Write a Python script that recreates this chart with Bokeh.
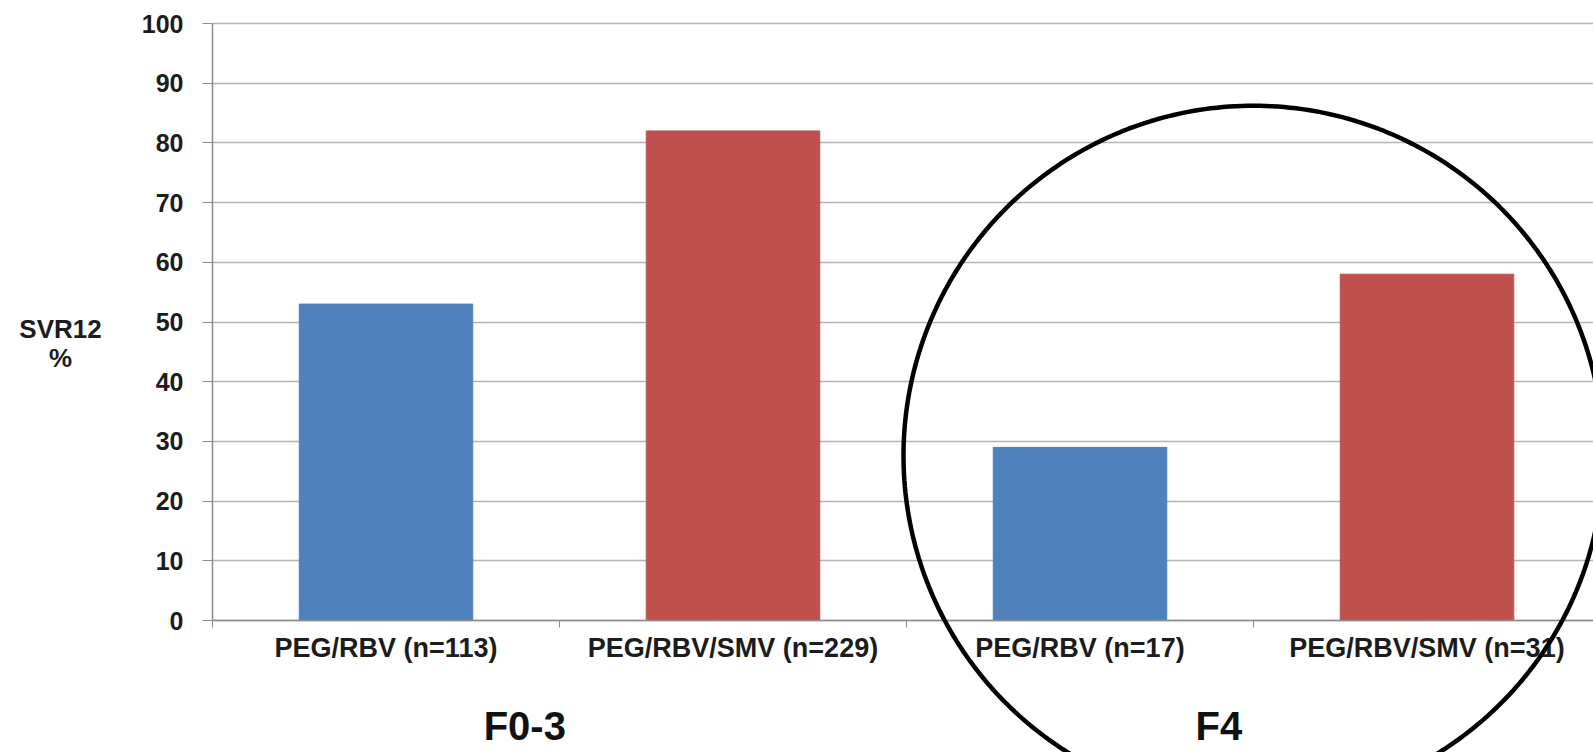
import numpy as np
from bokeh.plotting import figure
from bokeh.models import (Range1d, FixedTicker, Label, PolyAnnotation, ColumnDataSource,
                          LinearAxis, Grid)
from bokeh.embed import file_html
from bokeh.resources import INLINE

# SVR12 rates by treatment arm, split by fibrosis stage
categories = ["PEG/RBV (n=113)", "PEG/RBV/SMV (n=229)", "PEG/RBV (n=17)", "PEG/RBV/SMV (n=31)"]
svr12 = [53, 82, 29, 58]
bar_colors = ["#4F81BD", "#C0504D", "#4F81BD", "#C0504D"]
groups = ["F0-3", "F4"]
group_members = [[0, 1], [2, 3]]
y_ticks = [0, 10, 20, 30, 40, 50, 60, 70, 80, 90, 100]

FONT = "Liberation Sans"
TEXT = "#1c1c1c"
GRID = "#b4b4b4"
AXIS = "#8c8c8c"

W, H = 1593, 752
# The drawing area fills the whole canvas; axes sit at fixed data positions inside it,
# so annotations (stage labels, the ring) can extend below the value axis.
axis_left_px = 212.0     # where the value axis is drawn
zero_px = 620.0          # where y = 0 is drawn, from the top
cat_px = 347.0           # width of one category
px_y = 5.97              # pixels per percentage point

x_start = -0.5 - axis_left_px / cat_px
x_end = -0.5 + (W - axis_left_px) / cat_px
y_start = -(H - zero_px) / px_y
y_end = zero_px / px_y

idx = list(range(len(categories)))
src = ColumnDataSource(dict(x=idx, top=svr12, color=bar_colors, name=categories))

p = figure(width=W, height=H, output_backend="svg", toolbar_location=None,
           x_range=Range1d(x_start, x_end), y_range=Range1d(y_start, y_end),
           x_axis_type=None, y_axis_type=None,
           min_border=0, min_border_left=0, min_border_right=0,
           min_border_top=0, min_border_bottom=0)
p.outline_line_color = None
p.background_fill_color = "white"
p.border_fill_color = "white"

# horizontal grid lines, limited to the chart area
ygrid = Grid(dimension=1, ticker=FixedTicker(ticks=y_ticks, minor_ticks=[]),
             grid_line_color=GRID, grid_line_width=1.6)
try:
    ygrid.cross_bounds = (-0.5, x_end)
    p.add_layout(ygrid)
except AttributeError:
    p.segment(x0=[-0.5] * len(y_ticks), x1=[x_end] * len(y_ticks), y0=y_ticks, y1=y_ticks,
              line_color=GRID, line_width=1.6)

p.vbar(x="x", top="top", width=0.5, color="color", source=src)

# category axis along y = 0, small ticks between categories
xaxis = LinearAxis(fixed_location=0, bounds=(-0.5, x_end),
                   ticker=FixedTicker(ticks=idx, minor_ticks=[i - 0.5 for i in range(len(categories) + 1)]))
xaxis.major_label_overrides = {i: c for i, c in enumerate(categories)}
xaxis.major_tick_out = 0
xaxis.major_tick_in = 0
xaxis.minor_tick_out = 7
xaxis.minor_tick_in = 0
xaxis.minor_tick_line_color = AXIS
xaxis.axis_line_color = AXIS
xaxis.axis_line_width = 1.5
xaxis.major_label_text_font = FONT
xaxis.major_label_text_font_style = "bold"
xaxis.major_label_text_font_size = "27px"
xaxis.major_label_text_color = TEXT
xaxis.major_label_standoff = 5
p.add_layout(xaxis, "below")

# value axis at the left edge of the first category
yaxis = LinearAxis(fixed_location=-0.5, bounds=(0, 100),
                   ticker=FixedTicker(ticks=y_ticks, minor_ticks=[]))
yaxis.major_tick_out = 10
yaxis.major_tick_in = 0
yaxis.major_tick_line_color = AXIS
yaxis.axis_line_color = AXIS
yaxis.axis_line_width = 1.5
yaxis.major_label_text_font = FONT
yaxis.major_label_text_font_style = "bold"
yaxis.major_label_text_font_size = "25px"
yaxis.major_label_text_color = TEXT
yaxis.major_label_standoff = 19
p.add_layout(yaxis, "left")

# y axis title, two lines
for text, yv in [("SVR12", 48.9), ("%", 43.9)]:
    p.add_layout(Label(x=-0.5, y=yv, x_offset=-152, text=text, text_align="center",
                       text_baseline="middle", text_font=FONT, text_font_style="bold",
                       text_font_size="26px", text_color=TEXT))

# fibrosis stage labels below each pair of bars
for g, members in zip(groups, group_members):
    gx = float(np.mean(members)) - 0.1
    p.add_layout(Label(x=gx, y=-17.6, text=g, text_align="center", text_baseline="middle",
                       text_font=FONT, text_font_style="bold", text_font_size="40px",
                       text_color="#111111"))

# emphasis ring around the F4 group
ring_r = 350.0
cx = float(np.mean(group_members[1]))
cy = 27.6
t = np.linspace(0, 2 * np.pi, 361)
ring = PolyAnnotation(xs=list(cx + ring_r / cat_px * np.cos(t)),
                      ys=list(cy + ring_r / px_y * np.sin(t)),
                      fill_color=None, fill_alpha=0, line_color="black",
                      line_alpha=1.0, line_width=4.5)
p.add_layout(ring)

open("out.html", "w").write(file_html(p, INLINE))
